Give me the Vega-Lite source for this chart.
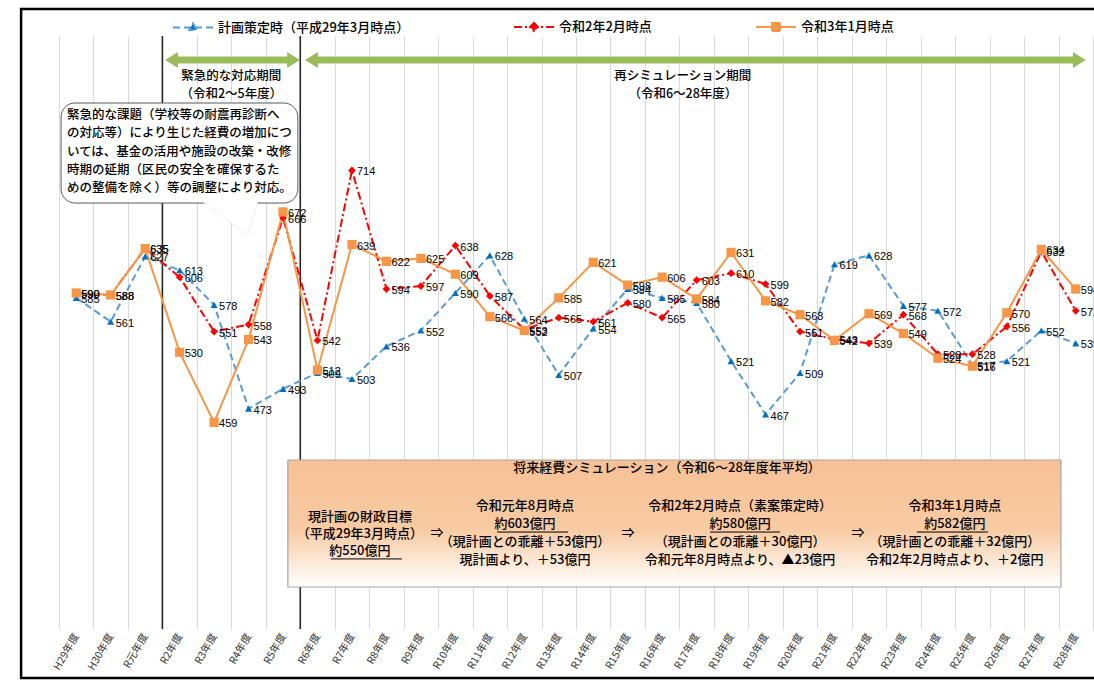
{
  "$schema": "https://vega.github.io/schema/vega-lite/v6.json",
  "width": 1034,
  "height": 593,
  "autosize": "none",
  "padding": {"left": 59, "top": 36, "right": 1, "bottom": 51},
  "background": "white",
  "config": {"view": {"stroke": null}, "font": "Noto Sans CJK JP"},
  "datasets": {
    "series": [
      {"year": "H29年度", "series": "plan", "value": 585},
      {"year": "H30年度", "series": "plan", "value": 561},
      {"year": "R元年度", "series": "plan", "value": 627},
      {"year": "R2年度", "series": "plan", "value": 613},
      {"year": "R3年度", "series": "plan", "value": 578},
      {"year": "R4年度", "series": "plan", "value": 473},
      {"year": "R5年度", "series": "plan", "value": 493},
      {"year": "R6年度", "series": "plan", "value": 509},
      {"year": "R7年度", "series": "plan", "value": 503},
      {"year": "R8年度", "series": "plan", "value": 536},
      {"year": "R9年度", "series": "plan", "value": 552},
      {"year": "R10年度", "series": "plan", "value": 590},
      {"year": "R11年度", "series": "plan", "value": 628},
      {"year": "R12年度", "series": "plan", "value": 564},
      {"year": "R13年度", "series": "plan", "value": 507},
      {"year": "R14年度", "series": "plan", "value": 554},
      {"year": "R15年度", "series": "plan", "value": 594},
      {"year": "R16年度", "series": "plan", "value": 585},
      {"year": "R17年度", "series": "plan", "value": 580},
      {"year": "R18年度", "series": "plan", "value": 521},
      {"year": "R19年度", "series": "plan", "value": 467},
      {"year": "R20年度", "series": "plan", "value": 509},
      {"year": "R21年度", "series": "plan", "value": 619},
      {"year": "R22年度", "series": "plan", "value": 628},
      {"year": "R23年度", "series": "plan", "value": 577},
      {"year": "R24年度", "series": "plan", "value": 572},
      {"year": "R25年度", "series": "plan", "value": 517},
      {"year": "R26年度", "series": "plan", "value": 521},
      {"year": "R27年度", "series": "plan", "value": 552},
      {"year": "R28年度", "series": "plan", "value": 539},
      {"year": "H29年度", "series": "feb2020", "value": 590},
      {"year": "H30年度", "series": "feb2020", "value": 588},
      {"year": "R元年度", "series": "feb2020", "value": 635},
      {"year": "R2年度", "series": "feb2020", "value": 606},
      {"year": "R3年度", "series": "feb2020", "value": 551},
      {"year": "R4年度", "series": "feb2020", "value": 558},
      {"year": "R5年度", "series": "feb2020", "value": 666},
      {"year": "R6年度", "series": "feb2020", "value": 542},
      {"year": "R7年度", "series": "feb2020", "value": 714},
      {"year": "R8年度", "series": "feb2020", "value": 594},
      {"year": "R9年度", "series": "feb2020", "value": 597},
      {"year": "R10年度", "series": "feb2020", "value": 638},
      {"year": "R11年度", "series": "feb2020", "value": 587},
      {"year": "R12年度", "series": "feb2020", "value": 553},
      {"year": "R13年度", "series": "feb2020", "value": 565},
      {"year": "R14年度", "series": "feb2020", "value": 561},
      {"year": "R15年度", "series": "feb2020", "value": 580},
      {"year": "R16年度", "series": "feb2020", "value": 565},
      {"year": "R17年度", "series": "feb2020", "value": 603},
      {"year": "R18年度", "series": "feb2020", "value": 610},
      {"year": "R19年度", "series": "feb2020", "value": 599},
      {"year": "R20年度", "series": "feb2020", "value": 551},
      {"year": "R21年度", "series": "feb2020", "value": 543},
      {"year": "R22年度", "series": "feb2020", "value": 539},
      {"year": "R23年度", "series": "feb2020", "value": 568},
      {"year": "R24年度", "series": "feb2020", "value": 528},
      {"year": "R25年度", "series": "feb2020", "value": 528},
      {"year": "R26年度", "series": "feb2020", "value": 556},
      {"year": "R27年度", "series": "feb2020", "value": 632},
      {"year": "R28年度", "series": "feb2020", "value": 572},
      {"year": "H29年度", "series": "jan2021", "value": 590},
      {"year": "H30年度", "series": "jan2021", "value": 588},
      {"year": "R元年度", "series": "jan2021", "value": 635},
      {"year": "R2年度", "series": "jan2021", "value": 530},
      {"year": "R3年度", "series": "jan2021", "value": 459},
      {"year": "R4年度", "series": "jan2021", "value": 543},
      {"year": "R5年度", "series": "jan2021", "value": 672},
      {"year": "R6年度", "series": "jan2021", "value": 512},
      {"year": "R7年度", "series": "jan2021", "value": 639},
      {"year": "R8年度", "series": "jan2021", "value": 622},
      {"year": "R9年度", "series": "jan2021", "value": 625},
      {"year": "R10年度", "series": "jan2021", "value": 609},
      {"year": "R11年度", "series": "jan2021", "value": 566},
      {"year": "R12年度", "series": "jan2021", "value": 552},
      {"year": "R13年度", "series": "jan2021", "value": 585},
      {"year": "R14年度", "series": "jan2021", "value": 621},
      {"year": "R15年度", "series": "jan2021", "value": 598},
      {"year": "R16年度", "series": "jan2021", "value": 606},
      {"year": "R17年度", "series": "jan2021", "value": 584},
      {"year": "R18年度", "series": "jan2021", "value": 631},
      {"year": "R19年度", "series": "jan2021", "value": 582},
      {"year": "R20年度", "series": "jan2021", "value": 568},
      {"year": "R21年度", "series": "jan2021", "value": 542},
      {"year": "R22年度", "series": "jan2021", "value": 569},
      {"year": "R23年度", "series": "jan2021", "value": 549},
      {"year": "R24年度", "series": "jan2021", "value": 524},
      {"year": "R25年度", "series": "jan2021", "value": 516},
      {"year": "R26年度", "series": "jan2021", "value": 570},
      {"year": "R27年度", "series": "jan2021", "value": 634},
      {"year": "R28年度", "series": "jan2021", "value": 594}
    ],
    "frame": [{"x": -1.1, "x2": 31, "y": 877.3, "y2": 200.4}],
    "dividers": [{"x": 3}, {"x": 7}],
    "arrows": [{"start": 3.08, "end": 6.99}, {"start": 7.14, "end": 29.79}],
    "periodText": [
      {"x": 5.0, "y": 809.5, "text": "緊急的な対応期間"},
      {"x": 5.0, "y": 791.3, "text": "（令和2～5年度）"},
      {"x": 18.1, "y": 809.5, "text": "再シミュレーション期間"},
      {"x": 18.1, "y": 791.3, "text": "（令和6～28年度）"}
    ],
    "callout": [{"x": 0.06, "x2": 6.93, "y": 782.2, "y2": 681}],
    "calloutTail": [{"x": 4.15, "y": 681}],
    "calloutText": [
      {"x": 0.23, "y": 770.1, "text": "緊急的な課題（学校等の耐震再診断へ"},
      {"x": 0.23, "y": 751.9, "text": "の対応等）により生じた経費の増加につ"},
      {"x": 0.23, "y": 732.6, "text": "いては、基金の活用や施設の改築・改修"},
      {"x": 0.23, "y": 714.4, "text": "時期の延期（区民の安全を確保するた"},
      {"x": 0.23, "y": 696.2, "text": "めの整備を除く）等の調整により対応。"}
    ],
    "simBox": [{"x": 6.64, "x2": 29.07, "y": 421, "y2": 292.5}],
    "simText": [
      {"x": 17.64, "y": 412.9, "role": "title", "text": "将来経費シミュレーション（令和6～28年度年平均）"},
      {"x": 8.73, "y": 363.3, "role": "head", "text": "現計画の財政目標"},
      {"x": 8.73, "y": 346.1, "role": "detail", "text": "（平成29年3月時点）"},
      {"x": 8.73, "y": 329.0, "role": "amount", "text": "約550億円"},
      {"x": 10.97, "y": 347.1, "role": "arrow", "text": "⇒"},
      {"x": 13.52, "y": 374.4, "role": "head", "text": "令和元年8月時点"},
      {"x": 13.52, "y": 356.2, "role": "amount", "text": "約603億円"},
      {"x": 13.52, "y": 338.0, "role": "detail", "text": "（現計画との乖離＋53億円）"},
      {"x": 13.52, "y": 319.8, "role": "detail", "text": "現計画より、＋53億円"},
      {"x": 16.51, "y": 347.1, "role": "arrow", "text": "⇒"},
      {"x": 19.76, "y": 374.4, "role": "head", "text": "令和2年2月時点（素案策定時）"},
      {"x": 19.76, "y": 356.2, "role": "amount", "text": "約580億円"},
      {"x": 19.76, "y": 338.0, "role": "detail", "text": "（現計画との乖離＋30億円）"},
      {"x": 19.76, "y": 319.8, "role": "detail", "text": "令和元年8月時点より、▲23億円"},
      {"x": 23.18, "y": 347.1, "role": "arrow", "text": "⇒"},
      {"x": 25.99, "y": 374.4, "role": "head", "text": "令和3年1月時点"},
      {"x": 25.99, "y": 356.2, "role": "amount", "text": "約582億円"},
      {"x": 25.99, "y": 338.0, "role": "detail", "text": "（現計画との乖離＋32億円）"},
      {"x": 25.99, "y": 319.8, "role": "detail", "text": "令和2年2月時点より、＋2億円"}
    ],
    "underlines": [
      {"x": 7.89, "x2": 9.95, "y": 320.9},
      {"x": 12.71, "x2": 14.77, "y": 348.1},
      {"x": 18.89, "x2": 20.92, "y": 348.1},
      {"x": 24.89, "x2": 26.95, "y": 348.1}
    ]
  },
  "resolve": {"scale": {"x": "independent"}},
  "layer": [
    {
      "layer": [
        {
          "data": {"name": "frame"},
          "mark": {"type": "rect", "fill": null, "fillOpacity": 0, "stroke": "#000000", "strokeWidth": 2.5},
          "encoding": {
            "x": {"field": "x", "type": "quantitative", "scale": {"domain": [0, 30], "nice": false, "zero": false}, "axis": null},
            "x2": {"field": "x2"},
            "y": {"field": "y", "type": "quantitative", "scale": {"domain": [250, 850], "nice": false, "zero": false}, "axis": null},
            "y2": {"field": "y2"}
          }
        },
        {
          "data": {"name": "dividers"},
          "mark": {"type": "rule", "stroke": "#262626", "strokeWidth": 1.6},
          "encoding": {
            "x": {"field": "x", "type": "quantitative", "scale": {"domain": [0, 30], "nice": false, "zero": false}, "axis": null},
            "y": {"datum": 850, "type": "quantitative", "scale": {"domain": [250, 850], "nice": false, "zero": false}, "axis": null},
            "y2": {"datum": 250}
          }
        },
        {
          "data": {"name": "arrows"},
          "mark": {"type": "rule", "stroke": "#9BBB59", "strokeWidth": 7, "xOffset": 10, "x2Offset": -10},
          "encoding": {
            "x": {"field": "start", "type": "quantitative", "scale": {"domain": [0, 30], "nice": false, "zero": false}, "axis": null},
            "x2": {"field": "end"},
            "y": {"datum": 825.7, "type": "quantitative", "scale": {"domain": [250, 850], "nice": false, "zero": false}, "axis": null}
          }
        },
        {
          "data": {"name": "arrows"},
          "mark": {"type": "point", "shape": "M0,0L1.6,-1L1.6,1Z", "size": 256, "filled": true, "fill": "#9BBB59", "opacity": 1, "strokeWidth": 0},
          "encoding": {
            "x": {"field": "start", "type": "quantitative", "scale": {"domain": [0, 30], "nice": false, "zero": false}, "axis": null},
            "y": {"datum": 825.7, "type": "quantitative", "scale": {"domain": [250, 850], "nice": false, "zero": false}, "axis": null}
          }
        },
        {
          "data": {"name": "arrows"},
          "mark": {"type": "point", "shape": "M0,0L-1.6,-1L-1.6,1Z", "size": 256, "filled": true, "fill": "#9BBB59", "opacity": 1, "strokeWidth": 0},
          "encoding": {
            "x": {"field": "end", "type": "quantitative", "scale": {"domain": [0, 30], "nice": false, "zero": false}, "axis": null},
            "y": {"datum": 825.7, "type": "quantitative", "scale": {"domain": [250, 850], "nice": false, "zero": false}, "axis": null}
          }
        },
        {
          "data": {"name": "periodText"},
          "mark": {"type": "text", "align": "center", "baseline": "middle", "fontSize": 12.5, "fontWeight": 500, "color": "#000000"},
          "encoding": {
            "x": {"field": "x", "type": "quantitative", "scale": {"domain": [0, 30], "nice": false, "zero": false}, "axis": null},
            "y": {"field": "y", "type": "quantitative", "scale": {"domain": [250, 850], "nice": false, "zero": false}, "axis": null},
            "text": {"field": "text"}
          }
        },
        {
          "data": {"name": "callout"},
          "mark": {"type": "rect", "fill": "#ffffff", "stroke": "#595959", "strokeWidth": 1, "cornerRadius": 14},
          "encoding": {
            "x": {"field": "x", "type": "quantitative", "scale": {"domain": [0, 30], "nice": false, "zero": false}, "axis": null},
            "x2": {"field": "x2"},
            "y": {"field": "y", "type": "quantitative", "scale": {"domain": [250, 850], "nice": false, "zero": false}, "axis": null},
            "y2": {"field": "y2"}
          }
        },
        {
          "data": {"name": "calloutTail"},
          "mark": {"type": "point", "shape": "M0,-0.15L4.6,3.2L5.6,-0.15", "size": 400, "filled": true, "fill": "#ffffff", "stroke": "#595959", "strokeWidth": 0.1, "opacity": 1},
          "encoding": {
            "x": {"field": "x", "type": "quantitative", "scale": {"domain": [0, 30], "nice": false, "zero": false}, "axis": null},
            "y": {"field": "y", "type": "quantitative", "scale": {"domain": [250, 850], "nice": false, "zero": false}, "axis": null}
          }
        },
        {
          "data": {"name": "calloutText"},
          "mark": {"type": "text", "align": "left", "baseline": "middle", "fontSize": 12.5, "fontWeight": 500, "color": "#000000"},
          "encoding": {
            "x": {"field": "x", "type": "quantitative", "scale": {"domain": [0, 30], "nice": false, "zero": false}, "axis": null},
            "y": {"field": "y", "type": "quantitative", "scale": {"domain": [250, 850], "nice": false, "zero": false}, "axis": null},
            "text": {"field": "text"}
          }
        },
        {
          "data": {"name": "simBox"},
          "mark": {
            "type": "rect",
            "stroke": "#a6a6a6",
            "strokeWidth": 1.2,
            "fill": {"gradient": "linear", "x1": 0, "y1": 0, "x2": 0, "y2": 1, "stops": [{"offset": 0, "color": "#F7C095"}, {"offset": 0.55, "color": "#F8CBA3"}, {"offset": 1, "color": "#FFFFFF"}]}
          },
          "encoding": {
            "x": {"field": "x", "type": "quantitative", "scale": {"domain": [0, 30], "nice": false, "zero": false}, "axis": null},
            "x2": {"field": "x2"},
            "y": {"field": "y", "type": "quantitative", "scale": {"domain": [250, 850], "nice": false, "zero": false}, "axis": null},
            "y2": {"field": "y2"}
          }
        },
        {
          "data": {"name": "simText"},
          "mark": {"type": "text", "align": "center", "baseline": "middle", "fontWeight": 500, "color": "#000000"},
          "encoding": {
            "x": {"field": "x", "type": "quantitative", "scale": {"domain": [0, 30], "nice": false, "zero": false}, "axis": null},
            "y": {"field": "y", "type": "quantitative", "scale": {"domain": [250, 850], "nice": false, "zero": false}, "axis": null},
            "text": {"field": "text"},
            "size": {"field": "role", "type": "ordinal", "scale": {"domain": ["title", "head", "amount", "detail", "arrow"], "range": [13, 13, 15, 12, 16]}, "legend": null}
          }
        },
        {
          "data": {"name": "underlines"},
          "mark": {"type": "rule", "stroke": "#000000", "strokeWidth": 1},
          "encoding": {
            "x": {"field": "x", "type": "quantitative", "scale": {"domain": [0, 30], "nice": false, "zero": false}, "axis": null},
            "x2": {"field": "x2"},
            "y": {"field": "y", "type": "quantitative", "scale": {"domain": [250, 850], "nice": false, "zero": false}, "axis": null}
          }
        }
      ]
    },
    {
      "data": {"name": "series"},
      "encoding": {
        "x": {
          "field": "year",
          "type": "ordinal",
          "scale": {
            "type": "band",
            "paddingInner": 0,
            "paddingOuter": 0,
            "domain": ["H29年度", "H30年度", "R元年度", "R2年度", "R3年度", "R4年度", "R5年度", "R6年度", "R7年度", "R8年度", "R9年度", "R10年度", "R11年度", "R12年度", "R13年度", "R14年度", "R15年度", "R16年度", "R17年度", "R18年度", "R19年度", "R20年度", "R21年度", "R22年度", "R23年度", "R24年度", "R25年度", "R26年度", "R27年度", "R28年度"]
          },
          "axis": {
            "title": null,
            "labelAngle": -60,
            "labelFontSize": 10.5,
            "labelColor": "#333333",
            "tickBand": "extent",
            "ticks": false,
            "domain": false,
            "grid": true,
            "gridColor": "#d9d9d9",
            "gridWidth": 1,
            "labelPadding": 5
          }
        },
        "y": {
          "field": "value",
          "type": "quantitative",
          "scale": {"domain": [250, 850], "nice": false, "zero": false},
          "axis": {
            "values": [250, 350, 450, 550, 650, 750, 850],
            "title": "（単位:億円）",
            "titleAngle": 0,
            "titleAlign": "left",
            "titleBaseline": "middle",
            "titleX": -33,
            "titleY": -10,
            "titleFontSize": 12,
            "titleFontWeight": 500,
            "titleColor": "#000000",
            "labelFont": "Liberation Sans",
            "labelFontSize": 11,
            "labelColor": "#404040",
            "domain": false,
            "ticks": true,
            "tickSize": 5,
            "tickColor": "#d9d9d9",
            "labelPadding": 6,
            "grid": true,
            "gridColor": "#d9d9d9",
            "gridWidth": 1.2
          }
        }
      },
      "layer": [
        {
          "mark": {"type": "line"},
          "encoding": {
            "stroke": {
              "field": "series",
              "type": "nominal",
              "scale": {"domain": ["plan", "feb2020", "jan2021"], "range": ["#5B9BD5", "#FF0000", "#F79646"]},
              "legend": {
                "orient": "none",
                "legendX": 113,
                "legendY": -30,
                "direction": "horizontal",
                "columns": 3,
                "columnPadding": 100,
                "title": null,
                "padding": 0,
                "symbolType": "stroke",
                "symbolSize": 1600,
                "symbolStrokeWidth": 2,
                "labelFontSize": 13,
                "labelFontWeight": 500,
                "labelOffset": 4,
                "labelLimit": 400,
                "labelColor": "#000000",
                "labelExpr": "datum.value === 'plan' ? '計画策定時（平成29年3月時点）' : datum.value === 'feb2020' ? '令和2年2月時点' : '令和3年1月時点'",
                "encode": {
                  "symbols": {
                    "update": {
                      "shape": {"signal": "datum.value === 'plan' ? 'M-1,0H1M0,-0.2L0.19,0.13L-0.19,0.13Z' : datum.value === 'feb2020' ? 'M-1,0H1M0,-0.2L0.2,0L0,0.2L-0.2,0Z' : 'M-1,0H1M-0.2,-0.2H0.2V0.2H-0.2Z'"},
                      "strokeDash": {"signal": "datum.value === 'plan' ? [5, 3] : datum.value === 'feb2020' ? [6, 3, 2, 3] : [1, 0]"},
                      "fill": {"signal": "datum.value === 'plan' ? '#0070C0' : datum.value === 'feb2020' ? '#FF0000' : '#F79646'"},
                      "fillOpacity": {"value": 1}
                    }
                  }
                }
              }
            },
            "strokeDash": {
              "field": "series",
              "type": "nominal",
              "scale": {"domain": ["plan", "feb2020", "jan2021"], "range": [[7, 4], [8, 3, 2, 3], [1, 0]]},
              "legend": null
            },
            "strokeWidth": {
              "field": "series",
              "type": "ordinal",
              "scale": {"domain": ["plan", "feb2020", "jan2021"], "range": [2, 2, 2.6]},
              "legend": null
            }
          }
        },
        {
          "transform": [{"filter": "datum.series === 'plan'"}],
          "mark": {"type": "point", "shape": "triangle-up", "size": 50, "filled": true, "fill": "#0070C0", "opacity": 1}
        },
        {
          "transform": [{"filter": "datum.series === 'feb2020'"}],
          "mark": {"type": "point", "shape": "diamond", "size": 60, "filled": true, "fill": "#FF0000", "opacity": 1}
        },
        {
          "transform": [{"filter": "datum.series === 'jan2021'"}],
          "mark": {"type": "point", "shape": "square", "size": 85, "filled": true, "fill": "#F79646", "opacity": 1}
        },
        {
          "mark": {"type": "text", "align": "left", "baseline": "middle", "dx": 5, "dy": 2, "font": "Liberation Sans", "fontSize": 11, "color": "#000000"},
          "encoding": {
            "text": {"field": "value", "type": "quantitative"}
          }
        }
      ]
    }
  ]
}
